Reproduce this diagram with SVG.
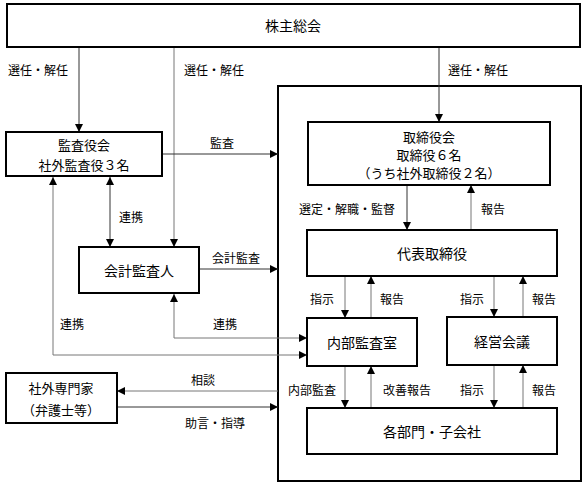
<svg xmlns="http://www.w3.org/2000/svg" width="587" height="487" viewBox="0 0 587 487">
<style>
.box{fill:#fff;stroke:#000;stroke-width:2}
.cont{fill:none;stroke:#000;stroke-width:2}
.t{font-family:"Noto Sans CJK JP","Noto Sans",sans-serif;font-size:13px;fill:#000;text-anchor:middle;dominant-baseline:central}
.t14{font-size:14px}
.l{font-family:"Noto Sans CJK JP","Noto Sans",sans-serif;font-size:12px;fill:#000;text-anchor:middle;dominant-baseline:central}
.c{fill:none;stroke:#333;stroke-width:1}
.g{fill:none;stroke:#777;stroke-width:1}
</style>
<defs>
<marker id="ah" viewBox="0 0 10 10" refX="10" refY="5" markerWidth="8" markerHeight="8" markerUnits="userSpaceOnUse" orient="auto-start-reverse">
<path d="M0,0 L10,5 L0,10 z" fill="#000"/>
</marker>
</defs>
<rect class="cont" x="278" y="86" width="303" height="395"/>
<g id="connectors">
<line class="c" x1="79" y1="47" x2="79" y2="132" marker-end="url(#ah)"/>
<line class="g" x1="174" y1="47" x2="174" y2="247" marker-end="url(#ah)"/>
<line class="c" x1="439" y1="47" x2="439" y2="122" marker-end="url(#ah)"/>
<line class="c" x1="162" y1="154" x2="278" y2="154" marker-end="url(#ah)"/>
<line class="c" x1="110" y1="177" x2="110" y2="247" marker-start="url(#ah)" marker-end="url(#ah)"/>
<line class="c" x1="199" y1="269" x2="278" y2="269" marker-end="url(#ah)"/>
<polyline class="g" points="53,177 53,355 307,355" marker-start="url(#ah)" marker-end="url(#ah)"/>
<polyline class="g" points="174,294 174,338 307,338" marker-start="url(#ah)" marker-end="url(#ah)"/>
<line class="g" x1="278" y1="391" x2="117" y2="391" marker-end="url(#ah)"/>
<line class="c" x1="117" y1="407" x2="278" y2="407" marker-end="url(#ah)"/>
<line class="c" x1="407" y1="185" x2="407" y2="230" marker-end="url(#ah)"/>
<line class="g" x1="471" y1="230" x2="471" y2="185" marker-end="url(#ah)"/>
<line class="g" x1="345" y1="276" x2="345" y2="318" marker-end="url(#ah)"/>
<line class="g" x1="371" y1="318" x2="371" y2="276" marker-end="url(#ah)"/>
<line class="g" x1="494" y1="276" x2="494" y2="317" marker-end="url(#ah)"/>
<line class="g" x1="523" y1="317" x2="523" y2="276" marker-end="url(#ah)"/>
<line class="g" x1="345" y1="366" x2="345" y2="408" marker-end="url(#ah)"/>
<line class="g" x1="371" y1="408" x2="371" y2="366" marker-end="url(#ah)"/>
<line class="g" x1="494" y1="365" x2="494" y2="408" marker-end="url(#ah)"/>
<line class="g" x1="523" y1="408" x2="523" y2="365" marker-end="url(#ah)"/>
</g>
<g id="labels">
<text class="l" x="38" y="69">選任・解任</text>
<text class="l" x="214" y="69">選任・解任</text>
<text class="l" x="478" y="69">選任・解任</text>
<text class="l" x="222" y="142">監査</text>
<text class="l" x="131" y="216">連携</text>
<text class="l" x="236" y="257">会計監査</text>
<text class="l" x="72" y="323">連携</text>
<text class="l" x="225" y="323">連携</text>
<text class="l" x="203" y="379">相談</text>
<text class="l" x="215" y="422">助言・指導</text>
<text class="l" x="347" y="208">選定・解職・監督</text>
<text class="l" x="493" y="208">報告</text>
<text class="l" x="322" y="298">指示</text>
<text class="l" x="392" y="298">報告</text>
<text class="l" x="472" y="298">指示</text>
<text class="l" x="544" y="298">報告</text>
<text class="l" x="312" y="389">内部監査</text>
<text class="l" x="407" y="389">改善報告</text>
<text class="l" x="472" y="389">指示</text>
<text class="l" x="544" y="389">報告</text>
</g>
<g id="shareholders"><rect class="box" x="7" y="4" width="573" height="43"/><text class="t t14" x="293" y="25">株主総会</text></g>
<g id="auditors"><rect class="box" x="6" y="132" width="156" height="44"/><text class="t" x="84" y="144">監査役会</text><text class="t" x="84" y="164">社外監査役３名</text></g>
<g id="accounting"><rect class="box" x="79" y="247" width="120" height="46"/><text class="t t14" x="139" y="270">会計監査人</text></g>
<g id="experts"><rect class="box" x="6" y="373" width="111" height="50"/><text class="t" x="61" y="387">社外専門家</text><text class="t" x="61" y="409">（弁護士等）</text></g>
<g id="board"><rect class="box" x="308" y="122" width="242" height="63"/><text class="t" x="429" y="136">取締役会</text><text class="t" x="429" y="154">取締役６名</text><text class="t" x="429" y="172">（うち社外取締役２名）</text></g>
<g id="president"><rect class="box" x="307" y="230" width="250" height="46"/><text class="t t14" x="432" y="253">代表取締役</text></g>
<g id="internal-audit"><rect class="box" x="307" y="318" width="110" height="48"/><text class="t t14" x="362" y="342">内部監査室</text></g>
<g id="management"><rect class="box" x="447" y="317" width="110" height="48"/><text class="t t14" x="502" y="341">経営会議</text></g>
<g id="divisions"><rect class="box" x="307" y="408" width="250" height="46"/><text class="t t14" x="432" y="431">各部門・子会社</text></g>
</svg>
